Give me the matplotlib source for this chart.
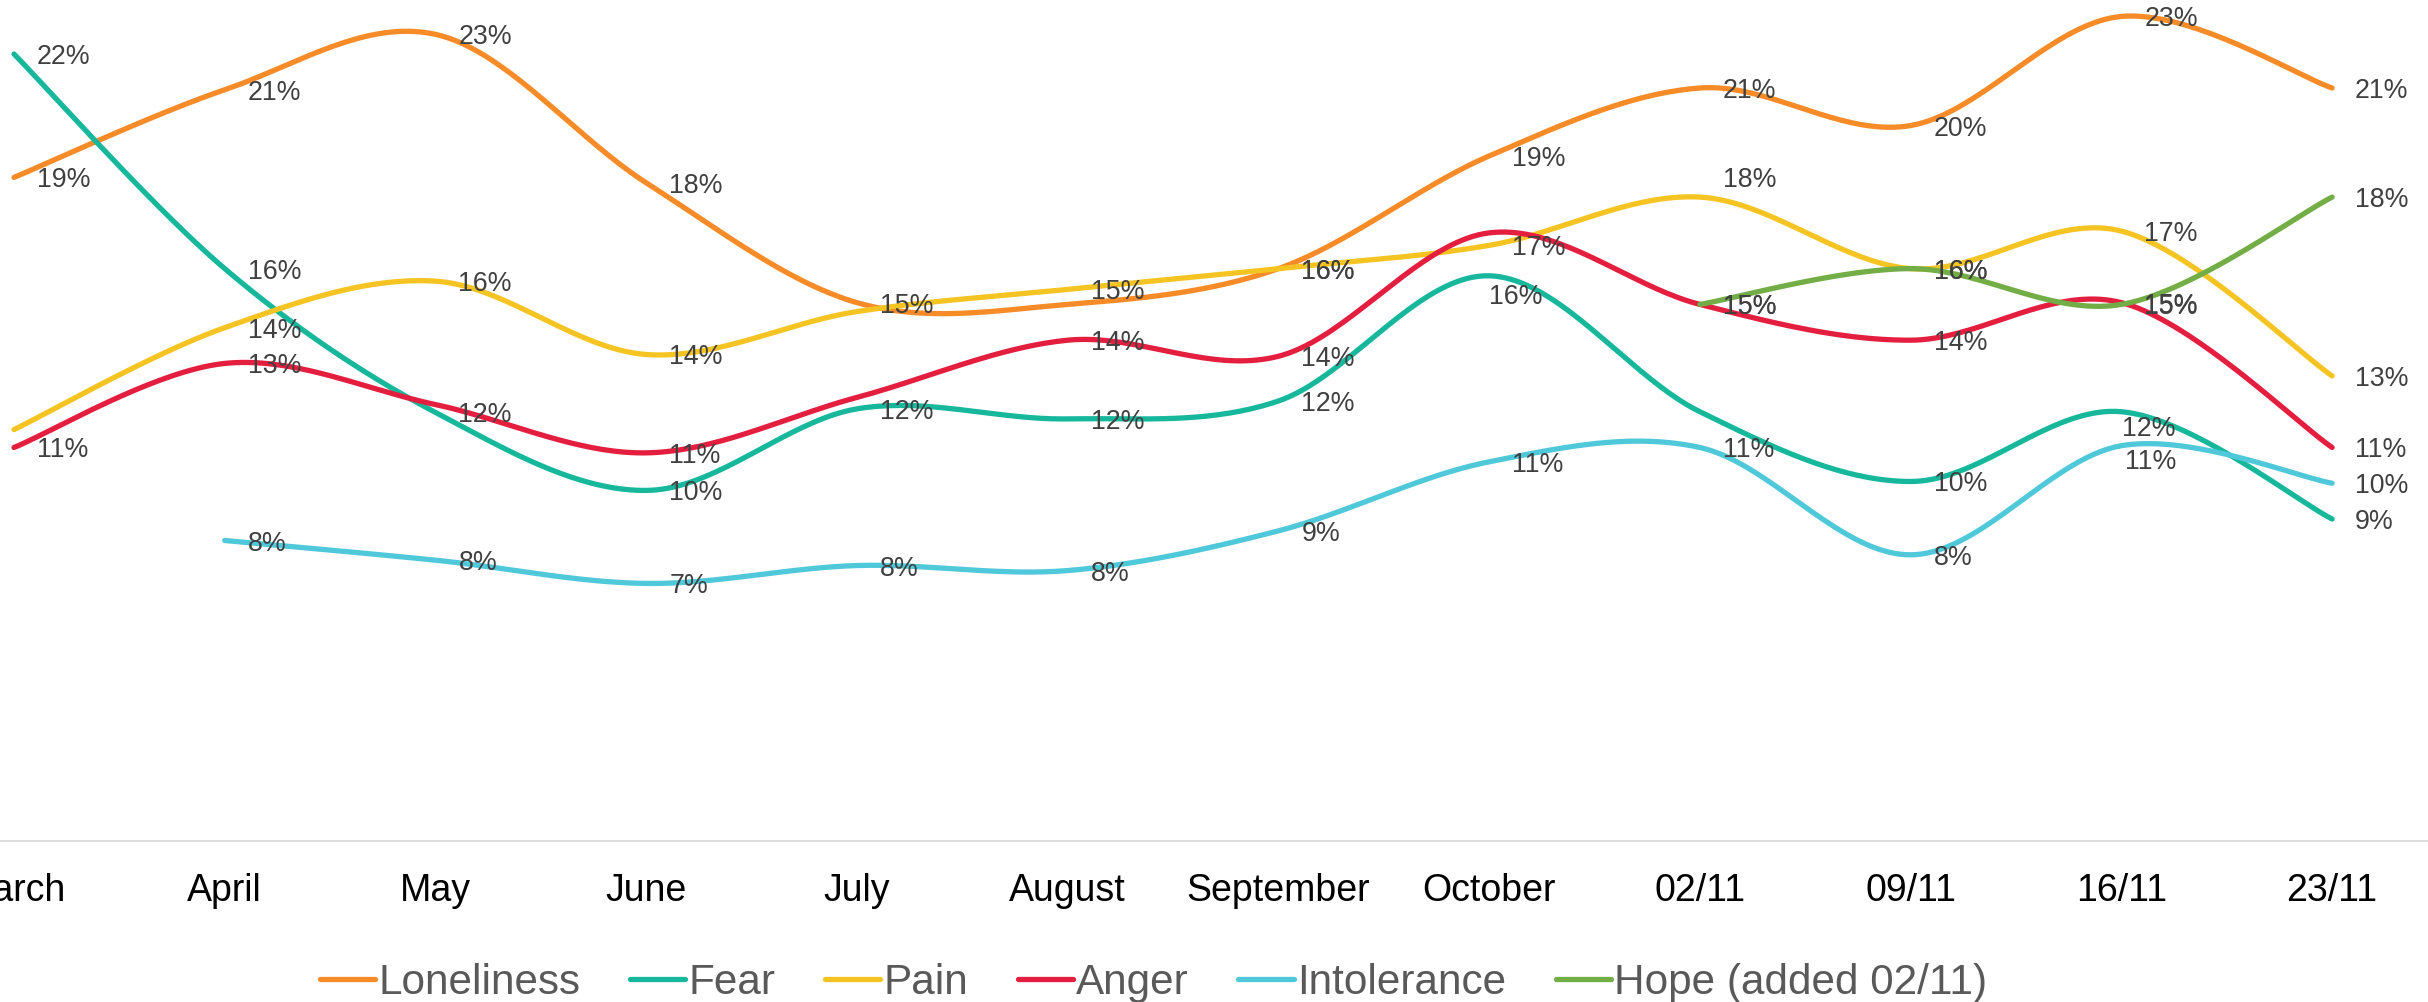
import numpy as np
import matplotlib.pyplot as plt

plt.rcParams['font.family'] = ['Liberation Sans', 'DejaVu Sans']

categories = ['March', 'April', 'May', 'June', 'July', 'August', 'September',
              'October', '02/11', '09/11', '16/11', '23/11']

# values in percent
loneliness = [18.55, 21.0, 22.55, 18.4, 15.05, 15.0, 16.0, 19.15, 21.05, 20.0, 23.05, 21.05]
fear = [22.0, 16.0, 11.98, 9.8, 12.08, 11.8, 12.3, 15.8, 12.0, 10.05, 12.0, 9.0]
pain = [11.5, 14.35, 15.65, 13.6, 14.8, 15.42, 16.0, 16.65, 18.0, 16.0, 17.05, 13.0]
anger = [11.0, 13.35, 12.2, 10.85, 12.4, 14.0, 13.55, 17.0, 15.0, 14.0, 15.05, 11.0]
intolerance = [np.nan, 8.4, 7.85, 7.2, 7.7, 7.56, 8.67, 10.6, 11.0, 8.0, 11.05, 10.0]
hope = [np.nan, np.nan, np.nan, np.nan, np.nan, np.nan, np.nan, np.nan,
        15.0, 16.0, 15.0, 18.0]

series = [
    ('Loneliness', loneliness, '#F68B28'),
    ('Fear', fear, '#17B79C'),
    ('Pain', pain, '#F5C422'),
    ('Anger', anger, '#E41E3E'),
    ('Intolerance', intolerance, '#4FC9DA'),
    ('Hope (added 02/11)', hope, '#72AD46'),
]

# labels moved by hand in the original (dx, dy in pixels, dy down)
moved = {('Fear', 7): (0, 21), ('Fear', 10): (1, 17),
         ('Intolerance', 10): (4, 16), ('Pain', 8): (23, -17)}
no_label = {('Pain', 0), ('Fear', 8), ('Anger', 2), ('Anger', 4),
            ('Loneliness', 5), ('Pain', 4), ('Anger', 7)}


def smooth(xs, ys, n=40):
    # excel-like smoothed line: bezier segments with catmull-rom control points
    k = len(xs)
    t = np.linspace(0, 1, n)
    px, py = [], []
    for i in range(k - 1):
        x0, y0 = xs[max(i - 1, 0)], ys[max(i - 1, 0)]
        x1, y1 = xs[i], ys[i]
        x2, y2 = xs[i + 1], ys[i + 1]
        x3, y3 = xs[min(i + 2, k - 1)], ys[min(i + 2, k - 1)]
        c1x, c1y = x1 + (x2 - x0) / 6, y1 + (y2 - y0) / 6
        c2x, c2y = x2 - (x3 - x1) / 6, y2 - (y3 - y1) / 6
        a, b, c, d = (1 - t) ** 3, 3 * (1 - t) ** 2 * t, 3 * (1 - t) * t ** 2, t ** 3
        px.extend(a * x1 + b * c1x + c * c2x + d * x2)
        py.extend(a * y1 + b * c1y + c * c2y + d * y2)
    return np.array(px), np.array(py)


fig = plt.figure(figsize=(24.28, 10.02), dpi=100)
ax = fig.add_axes([0, 0.1607, 1, 0.8393])

x = np.arange(len(categories))
for name, vals, col in series:
    v = np.array(vals, dtype=float)
    ok = ~np.isnan(v)
    sx, sy = smooth(x[ok], v[ok])
    ax.plot(sx, sy, color=col, lw=3.8, solid_capstyle='round', label=name)

for name, vals, col in series:
    for i, val in enumerate(vals):
        if np.isnan(val) or (name, i) in no_label:
            continue
        dx, dy = moved.get((name, i), (23, 3))
        ax.annotate(f'{val:.0f}%', (i, val), xytext=(dx, -dy),
                    textcoords='offset pixels', ha='left', va='center',
                    fontsize=19.3, color='#404040', zorder=10)

ax.set_xlim(-0.0664, 11.455)
ax.set_ylim(0, 23.51)
ax.set_xticks(x)
ax.set_xticklabels(categories, fontsize=27, color='black')
ax.tick_params(axis='x', length=0, pad=23)
ax.set_yticks([])
for s in ['left', 'right', 'top']:
    ax.spines[s].set_visible(False)
ax.spines['bottom'].set_color('#D9D9D9')
ax.spines['bottom'].set_linewidth(1.2)
ax.patch.set_alpha(0)

leg = fig.legend(loc='center', bbox_to_anchor=(1153.5 / 2428, 0.0194), ncol=6,
                 frameon=False, fontsize=30.4, handlelength=1.32,
                 handletextpad=0.07, columnspacing=1.17, borderpad=0)
for t in leg.get_texts():
    t.set_color('#595959')

fig.savefig('out.png', dpi=100)
